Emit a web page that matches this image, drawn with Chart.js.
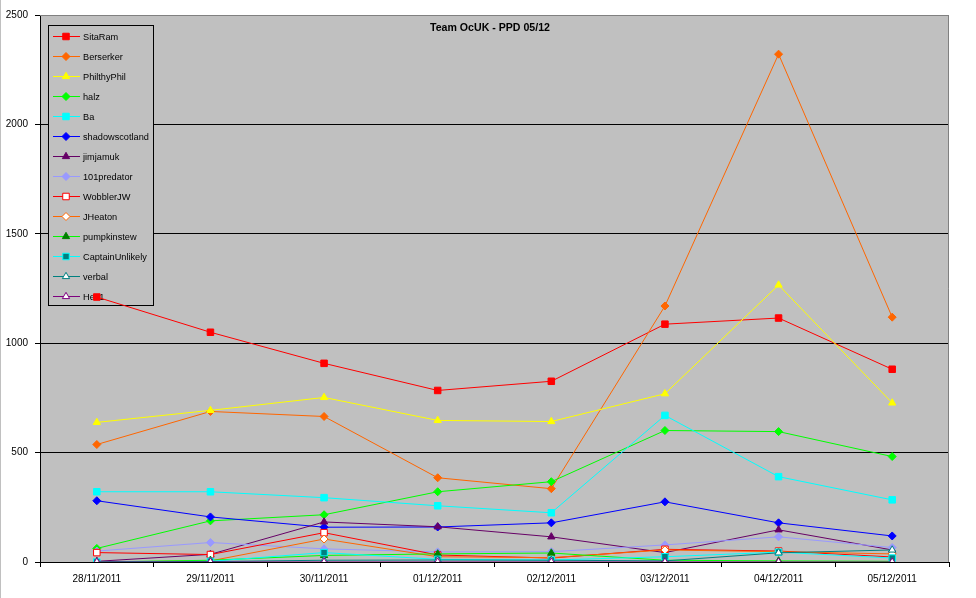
<!DOCTYPE html>
<html>
<head>
<meta charset="utf-8">
<script src="https://cdn.jsdelivr.net/npm/chart.js@4/dist/chart.umd.min.js"></script>
<style>
  html, body { margin: 0; padding: 0; background: #ffffff; }
  #wrap { width: 976px; height: 598px; position: relative; }
  canvas { display: block; }
</style>
</head>
<body>
<div id="wrap"><canvas id="c" width="976" height="598"></canvas></div>
<script>
const categories = ['28/11/2011','29/11/2011','30/11/2011','01/12/2011','02/12/2011','03/12/2011','04/12/2011','05/12/2011'];
const yTicks = [0, 500, 1000, 1500, 2000, 2500];
const chartTitle = 'Team OcUK - PPD 05/12';

const seriesNames = ['SitaRam','Berserker','PhilthyPhil','halz','Ba','shadowscotland','jimjamuk','101predator','WobblerJW','JHeaton','pumpkinstew','CaptainUnlikely','verbal','Hez1'];

const sitaRam        = [1211, 1050, 908, 784, 826, 1087, 1115, 881];
const berserker      = [537, 688, 665, 385, 335, 1170, 2321, 1119];
const philthyPhil    = [638, 693, 752, 647, 642, 769, 1266, 727];
const halz           = [62, 188, 216, 321, 367, 601, 596, 482];
const ba             = [321, 321, 294, 257, 225, 670, 390, 284];
const shadowscotland = [280, 206, 159, 160, 179, 275, 179, 119];
const jimjamuk       = [3, 35, 183, 161, 115, 43, 147, 55];
const predator101    = [50, 89, 60, 46, 47, 78, 115, 66];
const wobblerJW      = [43, 34, 134, 32, 18, 58, 50, 23];
const jHeaton        = [0, 5, 105, 24, 20, 55, 47, 37];
const pumpkinstew    = [0, 8, 30, 37, 41, 8, 5, 3];
const captainUnlikely= [0, 3, 43, 12, 9, 24, 45, 18];
const verbal         = [0, 2, 8, 9, 8, 5, 42, 55];
const hez1           = [0, 0, 0, 0, 0, 0, 0, 0];

const seriesValues = [sitaRam, berserker, philthyPhil, halz, ba, shadowscotland, jimjamuk, predator101, wobblerJW, jHeaton, pumpkinstew, captainUnlikely, verbal, hez1];

// styles: [lineColor, pointStyle, pointFill, pointBorder, radius]
const styles = [
  ['#FF0000', 'rect',     '#FF0000', '#FF0000', 4.6],
  ['#FF6600', 'rectRot',  '#FF6600', '#FF6600', 4],
  ['#FFFF00', 'triangle', '#FFFF00', '#FFFF00', 4.2],
  ['#00FF00', 'rectRot',  '#00FF00', '#00FF00', 4],
  ['#00FFFF', 'rect',     '#00FFFF', '#00FFFF', 4.6],
  ['#0000FF', 'rectRot',  '#0000FF', '#0000FF', 4],
  ['#660066', 'triangle', '#660066', '#660066', 4.2],
  ['#9999FF', 'rectRot',  '#9999FF', '#9999FF', 4],
  ['#FF0000', 'rect',     '#FFFFFF', '#FF0000', 4.6],
  ['#FF6600', 'rectRot',  '#FFFFFF', '#FF6600', 4],
  ['#00FF00', 'triangle', '#008000', '#008000', 4.2],
  ['#00FFFF', 'rect',     '#008080', '#00FFFF', 4.6],
  ['#008080', 'triangle', '#FFFFFF', '#008080', 4.2],
  ['#800080', 'triangle', '#FFFFFF', '#800080', 4.2]
];

const FONT = '"Liberation Sans", Arial, sans-serif';

const datasets = seriesNames.map((name, i) => ({
  label: name,
  data: seriesValues[i],
  borderColor: styles[i][0],
  borderWidth: 1,
  backgroundColor: styles[i][2],
  pointStyle: styles[i][1],
  pointBackgroundColor: styles[i][2],
  pointBorderColor: styles[i][3],
  pointBorderWidth: 1,
  pointRadius: styles[i][4],
  pointHoverRadius: styles[i][4],
  tension: 0,
  fill: false,
  order: seriesNames.length - i
}));

const framePlugin = {
  id: 'frame',
  beforeDraw(chart) {
    const { ctx, chartArea: a } = chart;
    ctx.save();
    ctx.fillStyle = '#C0C0C0';
    ctx.fillRect(a.left, a.top, a.right - a.left, a.bottom - a.top);
    ctx.fillRect(0, 0, 1, chart.height);
    ctx.restore();
  },
  beforeDatasetsDraw(chart) {
    const { ctx, chartArea: a } = chart;
    ctx.save();
    ctx.strokeStyle = '#808080';
    ctx.lineWidth = 1;
    ctx.beginPath();
    ctx.moveTo(a.left, a.top + 0.5);
    ctx.lineTo(a.right - 0.5, a.top + 0.5);
    ctx.lineTo(a.right - 0.5, a.bottom);
    ctx.stroke();
    ctx.fillStyle = '#000';
    ctx.font = 'bold 10.6px ' + FONT;
    ctx.textAlign = 'center';
    ctx.textBaseline = 'middle';
    ctx.fillText(chartTitle, 490, 28);
    const lx = 48, ly = 25, lw = 105, lh = 280;
    ctx.fillStyle = '#C0C0C0';
    ctx.fillRect(lx, ly, lw, lh);
    ctx.strokeStyle = '#000';
    ctx.strokeRect(lx + 0.5, ly + 0.5, lw, lh);
    ctx.font = '9.2px ' + FONT;
    ctx.textAlign = 'left';
    chart.data.datasets.forEach((ds, i) => {
      const y = 36 + i * 20;
      ctx.strokeStyle = ds.borderColor;
      ctx.lineWidth = 1;
      ctx.beginPath();
      ctx.moveTo(53, y + 0.5);
      ctx.lineTo(80, y + 0.5);
      ctx.stroke();
      ctx.fillStyle = ds.pointBackgroundColor;
      ctx.strokeStyle = ds.pointBorderColor;
      Chart.helpers.drawPoint(ctx, { pointStyle: ds.pointStyle, radius: ds.pointRadius, rotation: 0, borderWidth: 1 }, 66, y + 0.5);
      ctx.fillStyle = '#000';
      ctx.fillText(ds.label, 83, y + 1);
    });
    ctx.restore();
  }
};

new Chart(document.getElementById('c'), {
  type: 'line',
  data: { labels: categories, datasets },
  plugins: [framePlugin],
  options: {
    responsive: false,
    animation: false,
    devicePixelRatio: 1,
    layout: { padding: { top: 15, right: 27, left: 0, bottom: 0 } },
    plugins: { legend: { display: false }, title: { display: false }, tooltip: { enabled: false } },
    scales: {
      x: {
        type: 'category',
        offset: true,
        afterFit: s => { s.height = 36; },
        grid: { display: true, drawOnChartArea: false, drawTicks: true, tickLength: 5, color: '#000', offset: true },
        border: { display: true, color: '#000', width: 1 },
        ticks: { color: '#000', font: { family: FONT, size: 10 }, padding: 6, maxRotation: 0, autoSkip: false }
      },
      y: {
        min: 0,
        max: 2500,
        afterFit: s => { s.width = 40; },
        afterBuildTicks: s => { s.ticks = yTicks.map(v => ({ value: v })); },
        grid: {
          display: true,
          drawOnChartArea: true,
          drawTicks: true,
          tickLength: 5,
          color: c => (c.tick && c.tick.value === 2500) ? '#808080' : '#000',
          tickColor: '#000'
        },
        border: { display: true, color: '#000', width: 1 },
        ticks: { color: '#000', font: { family: FONT, size: 10 }, padding: 7, callback: v => String(v) }
      }
    }
  }
});
</script>
</body>
</html>
